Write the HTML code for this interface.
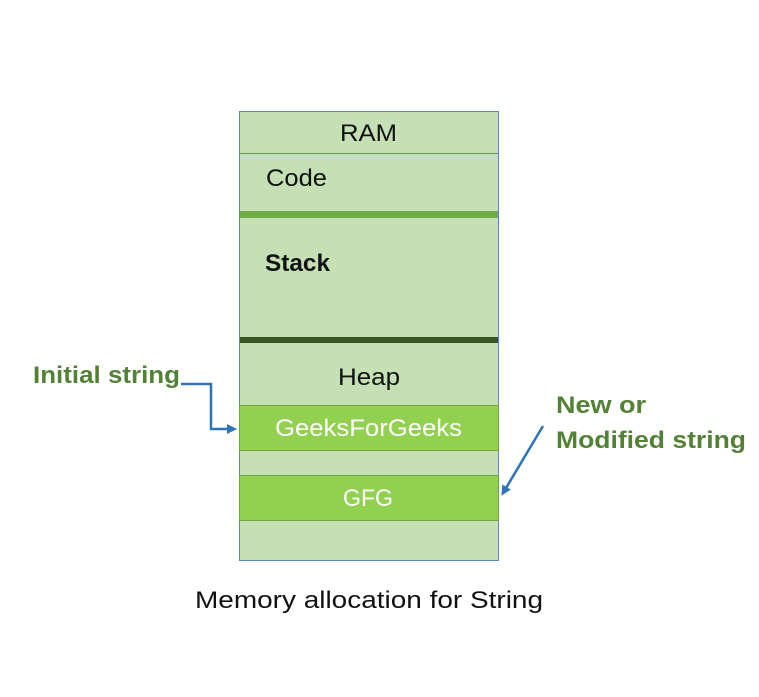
<!DOCTYPE html>
<html><head><meta charset="utf-8"><style>
html,body{margin:0;padding:0;background:#fff;}
svg{display:block;}
text{font-family:"Liberation Sans",sans-serif;}
</style></head><body>
<svg width="759" height="697" viewBox="0 0 759 697" xmlns="http://www.w3.org/2000/svg">
<defs>
<marker id="ah" markerWidth="10" markerHeight="10" refX="7" refY="5" orient="auto" markerUnits="userSpaceOnUse">
<path d="M0,0 L10,5 L0,10 Z" fill="#2e75b6"/>
</marker>
</defs>
<rect x="239.5" y="111.5" width="259" height="449" fill="#c5e0b4" stroke="#5b8bb5" stroke-width="1"/>
<line x1="239.5" y1="153.5" x2="498.5" y2="153.5" stroke="#5b8bb5" stroke-width="1"/>
<rect x="240" y="211" width="258" height="7" fill="#70ad47"/>
<rect x="240" y="337" width="258" height="6" fill="#375623"/>
<rect x="239.5" y="405.5" width="259" height="45" fill="#92d050" stroke="#6fa845" stroke-width="1"/>
<rect x="239.5" y="475.5" width="259" height="45" fill="#92d050" stroke="#6fa845" stroke-width="1"/>
<text x="340" y="141" font-size="24" textLength="57" lengthAdjust="spacingAndGlyphs" fill="#111">RAM</text>
<text x="266" y="186" font-size="24" textLength="61" lengthAdjust="spacingAndGlyphs" fill="#111">Code</text>
<text x="265" y="271" font-size="24" font-weight="bold" textLength="65" lengthAdjust="spacingAndGlyphs" fill="#111">Stack</text>
<text x="338" y="385" font-size="24" textLength="62" lengthAdjust="spacingAndGlyphs" fill="#111">Heap</text>
<text x="275" y="436" font-size="24" textLength="187" lengthAdjust="spacingAndGlyphs" fill="#fff">GeeksForGeeks</text>
<text x="343" y="506" font-size="24" textLength="50" lengthAdjust="spacingAndGlyphs" fill="#fff">GFG</text>
<text x="33" y="383" font-size="24" font-weight="bold" textLength="147" lengthAdjust="spacingAndGlyphs" fill="#538135">Initial string</text>
<text x="556" y="413" font-size="24" font-weight="bold" textLength="90" lengthAdjust="spacingAndGlyphs" fill="#538135">New or</text>
<text x="556" y="448" font-size="24" font-weight="bold" textLength="190" lengthAdjust="spacingAndGlyphs" fill="#538135">Modified string</text>
<path d="M181,384 H211 V429 H234" fill="none" stroke="#2e75b6" stroke-width="2.5" marker-end="url(#ah)"/>
<line x1="543" y1="426" x2="503" y2="493" stroke="#2e75b6" stroke-width="2.5" marker-end="url(#ah)"/>
<text x="195" y="608" font-size="24" textLength="348" lengthAdjust="spacingAndGlyphs" fill="#111">Memory allocation for String</text>
</svg>
</body></html>
